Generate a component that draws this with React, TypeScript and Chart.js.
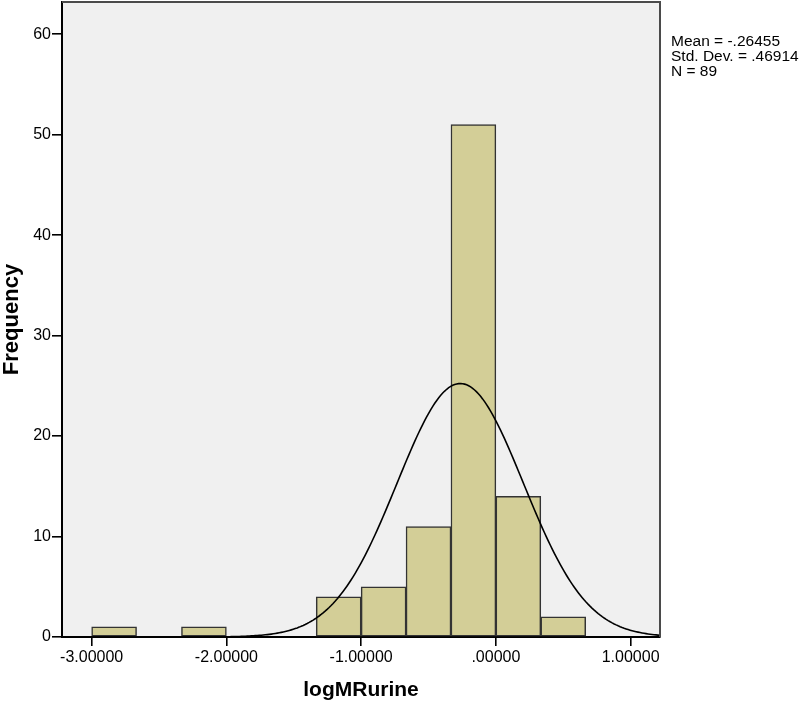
import React, { useEffect, useRef } from "react";
import { Chart, registerables } from "chart.js";

Chart.register(...registerables);

// Histogram bins (bin width 1/3, edges at -3 + k/3)
const BIN_CENTERS = [-2.8333, -2.1667, -1.1667, -0.8333, -0.5, -0.1667, 0.1667, 0.5];
const COUNTS = [1, 1, 4, 5, 11, 51, 14, 2];
const BIN_WIDTH = 1 / 3;

// Normal curve parameters (from the chart's legend)
const MEAN = -0.26455;
const SD = 0.46914;
const N = 89;

const X_TICKS = [-3, -2, -1, 0, 1];
const X_TICK_LABELS = ["-3.00000", "-2.00000", "-1.00000", ".00000", "1.00000"];
const Y_TICKS = [0, 10, 20, 30, 40, 50, 60];
const STATS_LINES = ["Mean = -.26455", "Std. Dev. = .46914", "N = 89"];

const X_MIN = -3.22;
const X_MAX = 1.218;
const Y_MAX = 63.2;

const FONT = '"Liberation Sans", Arial, sans-serif';

function normalCurve() {
  const pts: { x: number; y: number }[] = [];
  const steps = 300;
  for (let i = 0; i <= steps; i++) {
    const x = X_MIN + ((X_MAX - X_MIN) * i) / steps;
    const z = (x - MEAN) / SD;
    const y = (N * BIN_WIDTH * Math.exp(-0.5 * z * z)) / (SD * Math.sqrt(2 * Math.PI));
    pts.push({ x, y });
  }
  return pts;
}

const bgPlugin = {
  id: "plotBg",
  beforeDraw(chart: any) {
    const { ctx, chartArea } = chart;
    ctx.save();
    ctx.fillStyle = "#f0f0f0";
    ctx.fillRect(chartArea.left, chartArea.top, chartArea.right - chartArea.left, chartArea.bottom - chartArea.top);
    ctx.restore();
  },
  afterDraw(chart: any) {
    const { ctx, chartArea } = chart;
    ctx.save();
    ctx.strokeStyle = "#4a4a4a";
    ctx.lineWidth = 2;
    ctx.beginPath();
    ctx.moveTo(chartArea.left, chartArea.top);
    ctx.lineTo(chartArea.right, chartArea.top);
    ctx.lineTo(chartArea.right, chartArea.bottom);
    ctx.stroke();
    ctx.fillStyle = "#000";
    ctx.font = `15.5px ${FONT}`;
    ctx.textBaseline = "alphabetic";
    ctx.textAlign = "left";
    STATS_LINES.forEach((t, i) => {
      ctx.fillText(t, 671, 46 + i * 15);
    });
    ctx.restore();
  },
};

export default function App() {
  const ref = useRef<HTMLCanvasElement | null>(null);

  useEffect(() => {
    if (!ref.current) return;
    const chart = new Chart(ref.current, {
      type: "bar",
      data: {
        datasets: [
          {
            type: "line",
            data: normalCurve(),
            borderColor: "#000",
            borderWidth: 1.6,
            pointRadius: 0,
            tension: 0,
            fill: false,
            order: 0,
          } as any,
          {
            type: "bar",
            data: BIN_CENTERS.map((x, i) => ({ x, y: COUNTS[i] })),
            backgroundColor: "#d3ce97",
            borderColor: "#333333",
            borderWidth: 1.5,
            borderSkipped: false,
            barPercentage: 1,
            categoryPercentage: 1,
            order: 1,
          } as any,
        ],
      },
      options: {
        animation: false,
        responsive: false,
        maintainAspectRatio: false,
        devicePixelRatio: 1,
        layout: { padding: { left: 0, top: 2, right: 140, bottom: 0 } },
        plugins: { legend: { display: false }, tooltip: { enabled: false } },
        scales: {
          x: {
            type: "linear",
            min: X_MIN,
            max: X_MAX,
            offset: false,
            afterBuildTicks: (s: any) => {
              s.ticks = X_TICKS.map((v) => ({ value: v }));
            },
            afterFit: (s: any) => {
              s.height = 67;
              s.paddingLeft = 0;
              s.paddingRight = 0;
            },
            ticks: {
              autoSkip: false,
              maxRotation: 0,
              padding: 2,
              color: "#000",
              font: { family: FONT, size: 16 },
              callback: (_v: any, i: number) => X_TICK_LABELS[i],
            },
            grid: {
              display: true,
              offset: false,
              drawOnChartArea: false,
              drawTicks: true,
              tickLength: 9,
              color: "#000",
              lineWidth: 1.6,
            },
            border: { display: true, color: "#000", width: 2 },
            title: {
              display: true,
              text: "logMRurine",
              color: "#000",
              font: { family: FONT, size: 21, weight: "bold", lineHeight: 1 },
              padding: { top: 0, bottom: 3.5 },
            },
          },
          y: {
            type: "linear",
            min: 0,
            max: Y_MAX,
            afterBuildTicks: (s: any) => {
              s.ticks = Y_TICKS.map((v) => ({ value: v }));
            },
            afterFit: (s: any) => {
              s.width = 62;
              s.paddingTop = 0;
              s.paddingBottom = 0;
            },
            ticks: {
              padding: 1,
              color: "#000",
              font: { family: FONT, size: 16 },
              callback: (v: any) => String(v),
            },
            grid: {
              display: true,
              offset: false,
              drawOnChartArea: false,
              drawTicks: true,
              tickLength: 10,
              color: "#000",
              lineWidth: 1.6,
            },
            border: { display: true, color: "#000", width: 2 },
            title: {
              display: true,
              text: "Frequency",
              color: "#000",
              font: { family: FONT, size: 22, weight: "bold", lineHeight: 1.04 },
              padding: { top: 0, bottom: 0 },
            },
          },
        },
      } as any,
      plugins: [bgPlugin],
    });
    return () => chart.destroy();
  }, []);

  return (
    <div style={{ position: "absolute", left: 0, top: 0, width: 800, height: 704, background: "#fff" }}>
      <canvas ref={ref} width={800} height={704} style={{ display: "block" }} />
    </div>
  );
}
